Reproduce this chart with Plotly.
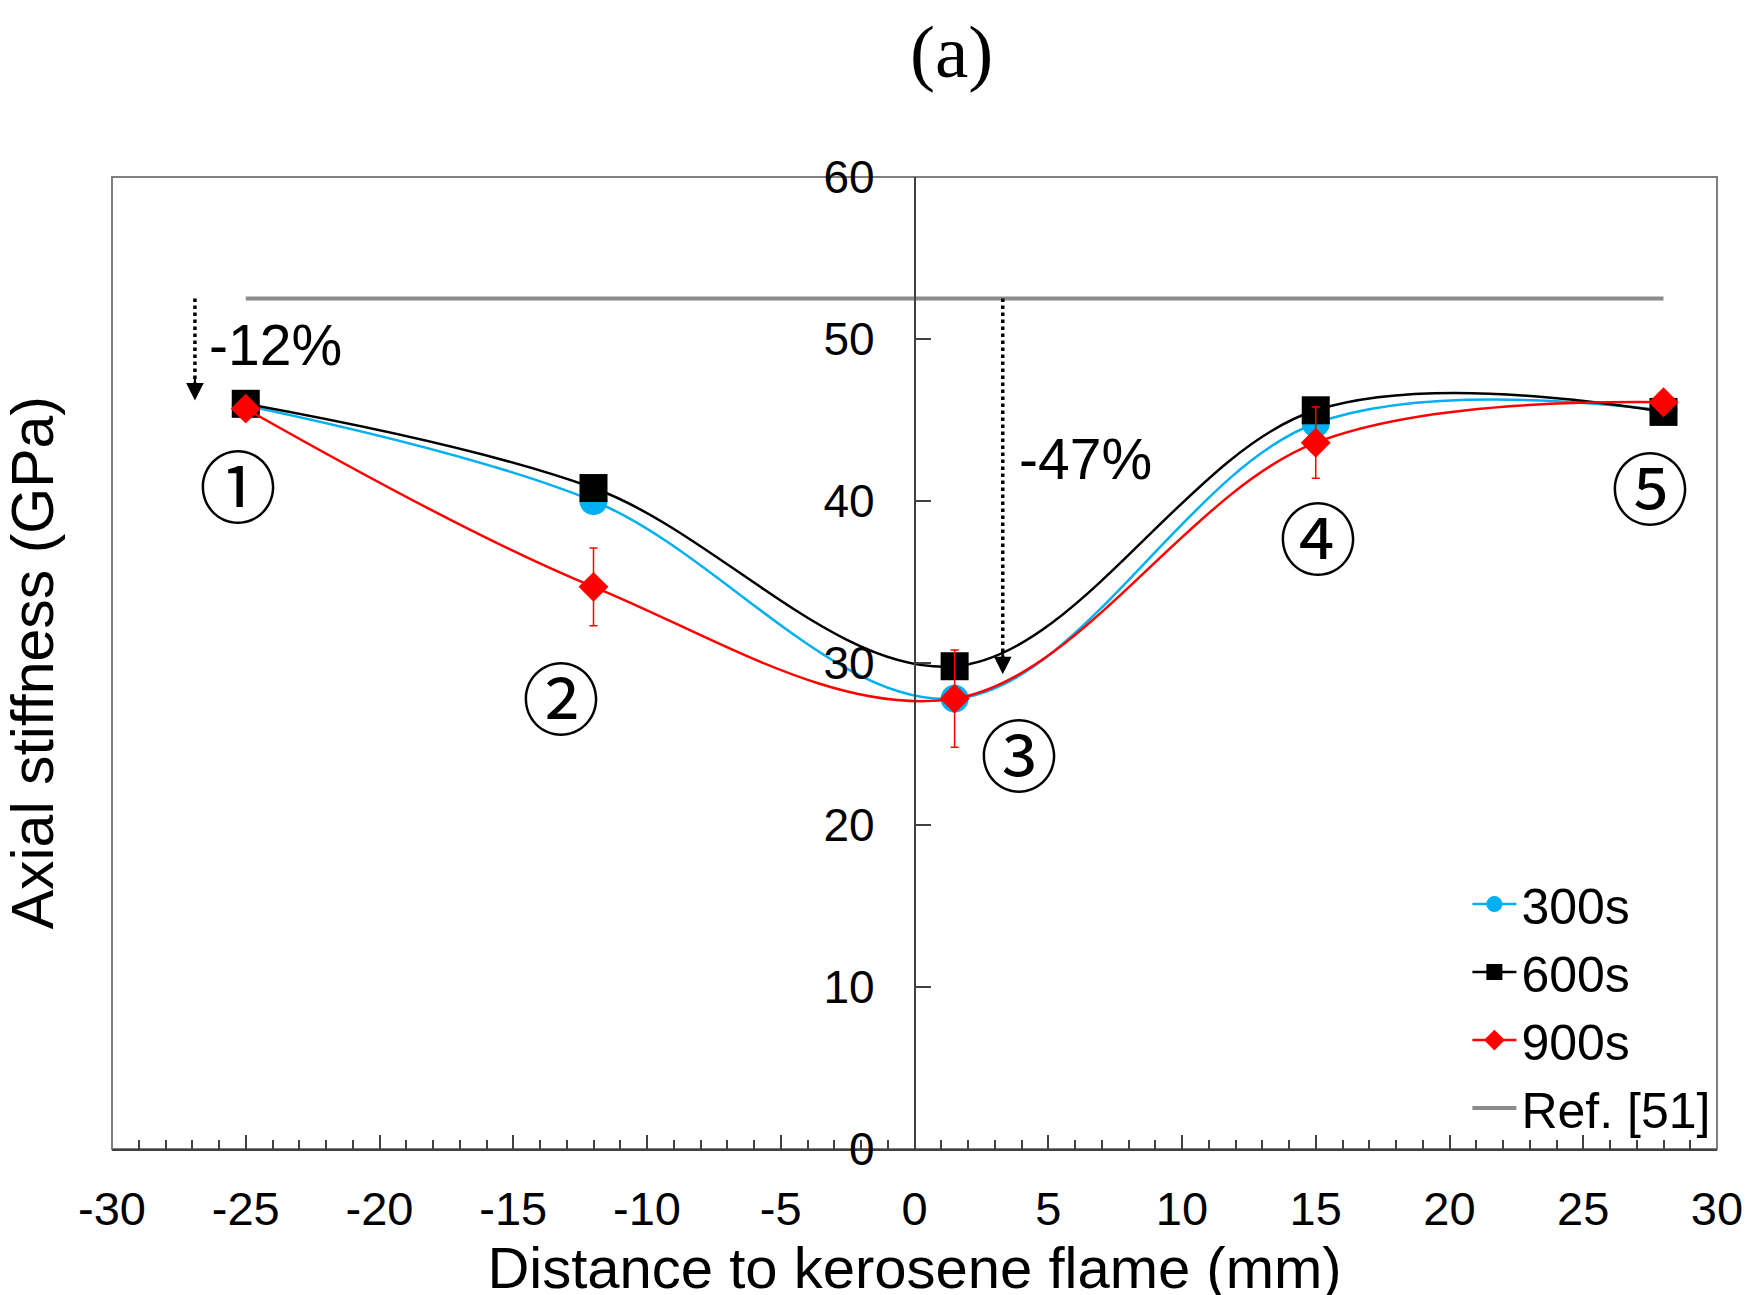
import plotly.graph_objects as go

# ---- data ----
x_pos = [-25, -12, 1.5, 15, 28]
s300 = [45.9, 40.0, 27.8, 44.8, 45.6]
s600 = [46.0, 40.8, 29.8, 45.6, 45.5]
s900 = [45.7, 34.7, 27.8, 43.6, 46.1]
s900_err = [0.4, 2.4, 3.0, 2.2, 0.3]
ref_x = [-25, 28]
ref_y = [52.5, 52.5]

x_ticks = [-30, -25, -20, -15, -10, -5, 0, 5, 10, 15, 20, 25, 30]
y_ticks = [0, 10, 20, 30, 40, 50, 60]

# annotation positions (data units)
circ_labels = ["①", "②", "③", "④", "⑤"]
circ_x = [-25.3, -13.2, 3.9, 15.1, 27.5]
circ_y = [41.1, 28.0, 24.5, 37.9, 41.0]
arrow_x = [-26.9, 3.3]
arrow_top = [52.5, 52.5]
arrow_tip = [46.2, 29.3]
pct_text = ["-12%", "-47%"]
pct_x = [-23.9, 6.4]
pct_y = [49.6, 42.6]

FONT = "Liberation Sans, Arial, sans-serif"

fig = go.Figure()

fig.add_trace(go.Scatter(
    x=ref_x, y=ref_y, mode="lines", name="Ref. [51]",
    line=dict(color="#8c8c8c", width=4), legendrank=4))

fig.add_trace(go.Scatter(
    x=x_pos, y=s300, mode="lines+markers", name="300s",
    line=dict(color="#00b0f0", width=2.5, shape="spline", smoothing=1),
    marker=dict(symbol="circle", size=28, color="#00b0f0"), legendrank=1))

fig.add_trace(go.Scatter(
    x=x_pos, y=s600, mode="lines+markers", name="600s",
    line=dict(color="#000000", width=2.5, shape="spline", smoothing=1),
    marker=dict(symbol="square", size=28, color="#000000"), legendrank=2))

fig.add_trace(go.Scatter(
    x=x_pos, y=s900, mode="lines+markers", name="900s",
    line=dict(color="#ff0000", width=2.5, shape="spline", smoothing=1),
    marker=dict(symbol="diamond", size=23, color="#ff0000"),
    error_y=dict(type="data", array=s900_err, visible=True,
                 color="#ff0000", thickness=1.5, width=4),
    legendrank=3))

# dotted arrows
for ax_, top, tip in zip(arrow_x, arrow_top, arrow_tip):
    fig.add_shape(type="line", x0=ax_, x1=ax_, y0=top, y1=tip + 0.8,
                  xref="x", yref="y",
                  line=dict(color="black", width=3.5, dash="dot"))
    fig.add_annotation(x=ax_, y=tip, xref="x", yref="y", text="",
                       showarrow=True, ax=0, ay=-24, arrowhead=2,
                       arrowsize=1.6, arrowwidth=2.2, arrowcolor="black")

for t, xx, yy in zip(pct_text, pct_x, pct_y):
    fig.add_annotation(x=xx, y=yy, xref="x", yref="y", text=t,
                       showarrow=False, font=dict(family=FONT, size=57, color="black"))

for t, xx, yy in zip(circ_labels, circ_x, circ_y):
    fig.add_annotation(x=xx, y=yy, xref="x", yref="y", text=t,
                       showarrow=False,
                       font=dict(family="Noto Sans CJK JP", size=78, color="black"))

# frame
fig.add_shape(type="rect", xref="x domain", yref="y domain",
              x0=0, x1=1, y0=0, y1=1, line=dict(color="#7f7f7f", width=2),
              layer="below")

# y axis title (placed at far left)
fig.add_annotation(x=-0.049, y=0.5, xref="paper", yref="paper",
                   text="Axial stiffness (GPa)", textangle=-90,
                   showarrow=False, xanchor="center", yanchor="middle",
                   font=dict(family=FONT, size=59, color="black"))

fig.update_layout(
    width=1754, height=1295,
    margin=dict(l=104, r=45, t=169, b=154),
    paper_bgcolor="white", plot_bgcolor="white",
    title=dict(text="(a)", x=0.538, xanchor="center", y=0.967, yanchor="middle",
               font=dict(family="Liberation Serif, Times New Roman, serif",
                         size=75, color="black")),
    showlegend=True,
    legend=dict(x=0.999, xanchor="right", y=0.002, yanchor="bottom",
                bgcolor="rgba(0,0,0,0)",
                font=dict(family=FONT, size=50, color="black"),
                itemwidth=44, tracegroupgap=0),
    xaxis=dict(range=[-30, 30], tickvals=x_ticks,
               ticktext=[str(v) for v in x_ticks],
               ticks="inside", ticklen=14, tickwidth=2, tickcolor="#404040",
               minor=dict(dtick=1, ticks="inside", ticklen=9, tickwidth=2,
                          tickcolor="#404040"),
               showline=True, linecolor="#404040", linewidth=2,
               showgrid=False, zeroline=False, mirror=False,
               ticklabelstandoff=18,
               tickfont=dict(family=FONT, size=47, color="black"),
               title=dict(text="Distance to kerosene flame (mm)",
                          font=dict(family=FONT, size=58, color="black"),
                          standoff=0)),
    yaxis=dict(range=[0, 60], tickvals=y_ticks,
               ticktext=[str(v) for v in y_ticks],
               anchor="free", position=0.5, side="left",
               ticks="inside", ticklen=16, tickwidth=2, tickcolor="#404040",
               showline=True, linecolor="#404040", linewidth=1.5,
               showgrid=False, zeroline=False,
               ticklabelstandoff=30,
               tickfont=dict(family=FONT, size=46, color="black")),
)

fig.write_html("out.html")
